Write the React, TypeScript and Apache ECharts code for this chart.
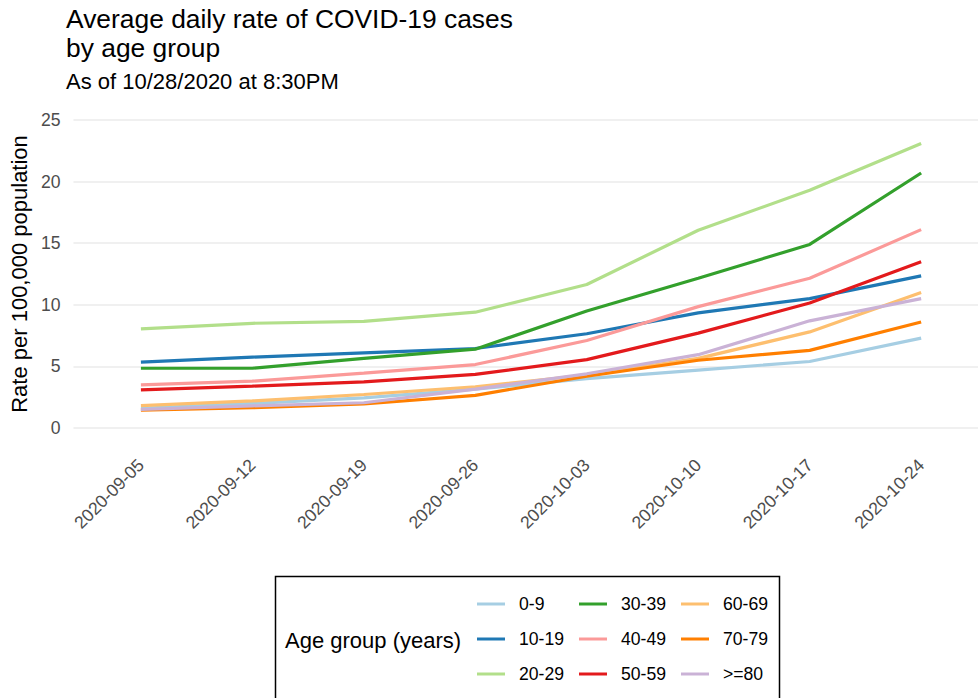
import React, { useEffect, useRef } from "react";
import * as echarts from "echarts";

const dates = [
  "2020-09-05",
  "2020-09-12",
  "2020-09-19",
  "2020-09-26",
  "2020-10-03",
  "2020-10-10",
  "2020-10-17",
  "2020-10-24",
];

const ageGroups = ["0-9", "10-19", "20-29", "30-39", "40-49", "50-59", "60-69", "70-79", ">=80"];

const age0to9 = [1.6, 2.0, 2.45, 3.15, 4.0, 4.7, 5.4, 7.3];
const age10to19 = [5.35, 5.75, 6.1, 6.45, 7.65, 9.35, 10.5, 12.35];
const age20to29 = [8.05, 8.5, 8.65, 9.4, 11.65, 16.05, 19.3, 23.1];
const age30to39 = [4.85, 4.85, 5.65, 6.4, 9.5, 12.15, 14.9, 20.7];
const age40to49 = [3.5, 3.8, 4.45, 5.15, 7.1, 9.85, 12.15, 16.1];
const age50to59 = [3.1, 3.4, 3.75, 4.35, 5.55, 7.7, 10.15, 13.5];
const age60to69 = [1.82, 2.2, 2.72, 3.35, 4.3, 5.65, 7.8, 11.0];
const age70to79 = [1.45, 1.65, 1.95, 2.65, 4.2, 5.5, 6.3, 8.6];
const age80plus = [1.5, 1.8, 2.05, 3.15, 4.4, 5.95, 8.7, 10.5];

const seriesValues = [
  age0to9,
  age10to19,
  age20to29,
  age30to39,
  age40to49,
  age50to59,
  age60to69,
  age70to79,
  age80plus,
];

const colors = [
  "#A6CEE3",
  "#1F78B4",
  "#B2DF8A",
  "#33A02C",
  "#FB9A99",
  "#E31A1C",
  "#FDBF6F",
  "#FF7F00",
  "#CAB2D6",
];

const yTicks = [0, 5, 10, 15, 20, 25];

const FONT = "'Liberation Sans', Arial, sans-serif";

export default function App() {
  const ref = useRef<HTMLDivElement>(null);

  useEffect(() => {
    if (!ref.current) return;
    const chart = echarts.init(ref.current, null, { renderer: "svg" });

    const legendCols = [0, 1, 2].map((c) => ({
      show: true,
      orient: "vertical" as const,
      left: 477 + c * 102,
      top: 594,
      itemWidth: 28,
      itemHeight: 3,
      itemGap: 15,
      icon: "rect",
      padding: 0,
      selectedMode: false,
      data: ageGroups.slice(c * 3, c * 3 + 3),
      textStyle: {
        fontSize: 17.6,
        color: "#000",
        fontFamily: FONT,
        lineHeight: 20,
        padding: [0, 0, 0, 9],
      },
    }));

    chart.setOption({
      animation: false,
      textStyle: { fontFamily: FONT },
      color: colors,
      title: [
        {
          text: "Average daily rate of COVID-19 cases\nby age group",
          left: 66,
          top: 4,
          padding: 0,
          textStyle: {
            fontSize: 26.4,
            fontWeight: "normal",
            color: "#000",
            lineHeight: 29,
            fontFamily: FONT,
          },
        },
        {
          text: "As of 10/28/2020 at 8:30PM",
          left: 66,
          top: 70,
          padding: 0,
          textStyle: {
            fontSize: 22,
            fontWeight: "normal",
            color: "#000",
            fontFamily: FONT,
          },
        },
      ],
      legend: legendCols,
      grid: { left: 66, right: 0, top: 120, bottom: 270, containLabel: false },
      xAxis: {
        type: "value",
        min: -0.605,
        max: 7.51,
        axisLine: { show: false },
        axisTick: { show: false },
        splitLine: { show: false },
        axisLabel: {
          customValues: dates.map((_, i) => i),
          formatter: (v: number) => dates[Math.round(v)] ?? "",
          rotate: 45,
          fontSize: 17.6,
          color: "#4d4d4d",
          margin: 34,
          fontFamily: FONT,
        },
      },
      yAxis: {
        type: "value",
        min: yTicks[0],
        max: yTicks[yTicks.length - 1],
        interval: 5,
        name: "Rate per 100,000 population",
        nameLocation: "middle",
        nameGap: 36,
        nameTextStyle: { fontSize: 22, color: "#000", fontFamily: FONT },
        axisLine: { show: false },
        axisTick: { show: false },
        axisLabel: { fontSize: 17.6, color: "#4d4d4d", margin: 13, fontFamily: FONT },
        splitLine: { lineStyle: { color: "#ebebeb", width: 1.5 } },
      },
      graphic: [
        {
          type: "rect",
          shape: { x: 275.5, y: 576.5, width: 504, height: 150 },
          style: { fill: "none", stroke: "#000", lineWidth: 1.5 },
          silent: true,
        },
        {
          type: "text",
          x: 285,
          y: 640,
          style: {
            text: "Age group (years)",
            fontSize: 22,
            fill: "#000",
            fontFamily: FONT,
            verticalAlign: "middle",
          },
          silent: true,
        },
      ],
      series: ageGroups.map((name, si) => ({
        name,
        type: "line",
        showSymbol: false,
        symbol: "none",
        lineStyle: { width: 3.2, color: colors[si] },
        itemStyle: { color: colors[si] },
        data: seriesValues[si].map((v, i) => [i, v]),
      })),
    });

    return () => chart.dispose();
  }, []);

  return (
    <div
      ref={ref}
      style={{ position: "fixed", left: 0, top: 0, width: 978, height: 698, background: "#fff" }}
    />
  );
}
